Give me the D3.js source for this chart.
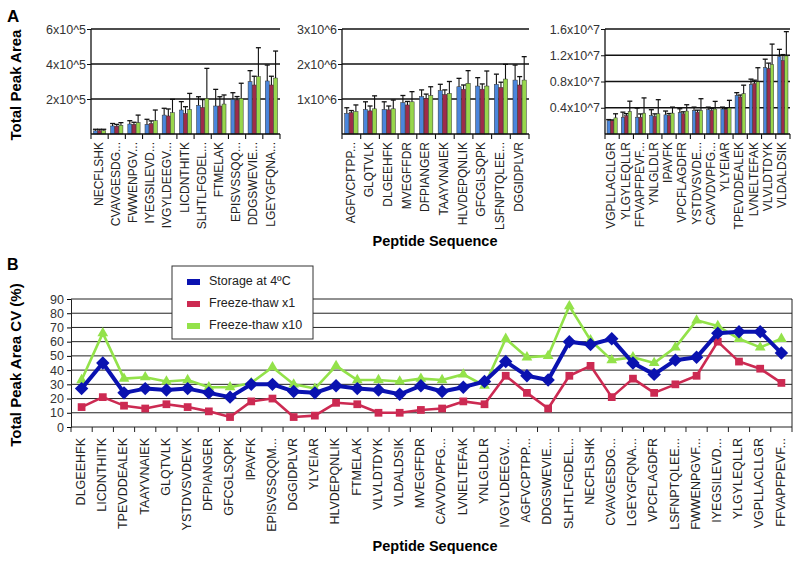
<!DOCTYPE html>
<html>
<head>
<meta charset="utf-8">
<script src="https://cdn.jsdelivr.net/npm/d3@7.9.0/dist/d3.min.js"></script>
<style>
  body { margin: 0; background: #fff; }
  svg { font-family: 'Liberation Sans', Arial, sans-serif; }
</style>
</head>
<body>
<svg id="chart" width="800" height="565"></svg>
<script>
// ---- Panel A data (three groups of peptides) ----
const a1Labels = ['NECFLSHK', 'CVAVGESDG...', 'FWWENPGV...', 'IYEGSILEVD...', 'IVGYLDEEGV...', 'LICDNTHITK',
  'SLHTLFGDEL...', 'FTMELAK', 'EPISVSSQQ...', 'DDGSWEVIE...', 'LGEYGFQNA...'];
const a1Storage = [18000, 46000, 57000, 55000, 108000, 137000, 164000, 160000, 198000, 299000, 303000];
const a1Ft1 = [20000, 45000, 55000, 60000, 103000, 118000, 152000, 160000, 194000, 280000, 280000];
const a1Ft10 = [20000, 50000, 65000, 76000, 122000, 140000, 204000, 171000, 204000, 328000, 320000];
const a1StorageErr = [9000, 14000, 19000, 29000, 39000, 48000, 49000, 95000, 38000, 63000, 91000];
const a1Ft1Err = [7000, 10000, 12000, 15000, 40000, 38000, 45000, 53000, 20000, 50000, 50000];
const a1Ft10Err = [7000, 15000, 43000, 61000, 76000, 92000, 171000, 52000, 86000, 165000, 154000];
const a1Ticks = [200000, 400000, 600000];
const a1TickLabels = ['2x10^5', '4x10^5', '6x10^5'];

const a2Labels = ['AGFVCPTPP...', 'GLQTVLK', 'DLGEEHFK', 'MVEGFFDR', 'DFPIANGER', 'TAAYVNAIEK',
  'HLVDEPQNLIK', 'GFCGLSQPK', 'LSFNPTQLEE...', 'DGGIDPLVR'];
const a2Storage = [590000, 700000, 700000, 900000, 1070000, 1240000, 1350000, 1370000, 1420000, 1540000];
const a2Ft1 = [610000, 660000, 690000, 830000, 1020000, 1130000, 1280000, 1280000, 1330000, 1400000];
const a2Ft10 = [640000, 720000, 720000, 920000, 1100000, 1160000, 1450000, 1370000, 1570000, 1540000];
const a2StorageErr = [160000, 220000, 220000, 200000, 190000, 180000, 240000, 240000, 290000, 430000];
const a2Ft1Err = [60000, 140000, 110000, 100000, 120000, 130000, 120000, 150000, 150000, 240000];
const a2Ft10Err = [190000, 370000, 250000, 290000, 250000, 340000, 360000, 430000, 420000, 670000];
const a2Ticks = [1000000, 2000000, 3000000];
const a2TickLabels = ['1x10^6', '2x10^6', '3x10^6'];

const a3Labels = ['VGPLLACLLGR', 'YLGYLEQLLR', 'FFVAPFPEVF...', 'YNLGLDLR', 'IPAVFK', 'VPCFLAGDFR',
  'YSTDVSVDE...', 'CAVVDVPFG...', 'YLYEIAR', 'TPEVDDEALEK', 'LVNELTEFAK', 'VLVLDTDYK', 'VLDALDSIK'];
const a3Storage = [2.05e6, 2.56e6, 2.56e6, 2.82e6, 2.92e6, 3.28e6, 3.59e6, 3.7e6, 3.8e6, 5.9e6, 7.54e6, 10.1e6, 11.8e6];
const a3Ft1 = [2.05e6, 2.8e6, 2.56e6, 2.67e6, 2.82e6, 3.08e6, 3.33e6, 3.59e6, 3.7e6, 5.64e6, 7.7e6, 10.0e6, 11.2e6];
const a3Ft10 = [2.46e6, 3.44e6, 3.18e6, 3.08e6, 3.18e6, 3.49e6, 3.59e6, 3.8e6, 3.95e6, 6.15e6, 7.95e6, 10.6e6, 11.9e6];
const a3StorageErr = [0.15e6, 0.77e6, 1.39e6, 0.88e6, 0.58e6, 0.57e6, 0.51e6, 0.4e6, 0.3e6, 0.4e6, 0.82e6, 1.3e6, 1.1e6];
const a3Ft1Err = [0.1e6, 0.3e6, 0.5e6, 0.4e6, 0.3e6, 0.3e6, 0.3e6, 0.3e6, 0.2e6, 0.3e6, 0.5e6, 0.8e6, 0.9e6];
const a3Ft10Err = [0.62e6, 1.56e6, 2.32e6, 2.15e6, 0.92e6, 0.97e6, 1.79e6, 1.17e6, 1.18e6, 1.29e6, 2.15e6, 3.1e6, 3.7e6];
const a3Ticks = [4e6, 8e6, 12e6, 16e6];
const a3TickLabels = ['0.4x10^7', '0.8x10^7', '1.2x10^7', '1.6x10^7'];

// ---- Panel B data (CV %) ----
const bLabels = ['DLGEEHFK', 'LICDNTHITK', 'TPEVDDEALEK', 'TAAYVNAIEK', 'GLQTVLK', 'YSTDVSVDEVK',
  'DFPIANGER', 'GFCGLSQPK', 'IPAVFK', 'EPISVSSQQM...', 'DGGIDPLVR', 'YLYEIAR', 'HLVDEPQNLIK',
  'FTMELAK', 'VLVLDTDYK', 'VLDALDSIK', 'MVEGFFDR', 'CAVVDVPFG...', 'LVNELTEFAK', 'YNLGLDLR',
  'IVGYLDEEGV...', 'AGFVCPTPP...', 'DDGSWEVIE...', 'SLHTLFGDEL...', 'NECFLSHK', 'CVAVGESDG...',
  'LGEYGFQNA...', 'VPCFLAGDFR', 'LSFNPTQLEE...', 'FWWENPGVF...', 'IYEGSILEVD...', 'YLGYLEQLLR',
  'VGPLLACLLGR', 'FFVAPFPEVF...'];
const bStorage = [27, 45, 24, 27, 26, 27, 24, 21, 30, 30, 25, 24, 29, 27, 26, 23, 29, 25, 28, 32,
  46, 36, 33, 60, 58, 62, 45, 37, 47, 49, 66, 67, 67, 52];
const bFt1 = [14, 21, 15, 13, 16, 14, 11, 7, 18, 20, 7, 8, 17, 16, 10, 10, 12, 13, 18, 16,
  36, 24, 13, 36, 43, 21, 34, 24, 30, 36, 60, 46, 41, 31];
const bFt10 = [33, 66, 34, 35, 32, 33, 28, 28, 31, 42, 30, 27, 43, 33, 33, 32, 34, 33, 37, 29,
  62, 49, 50, 85, 61, 47, 49, 45, 56, 75, 71, 62, 56, 62];
const bTicks = d3.range(0, 100, 10);
const seriesNames = ['Storage at 4ºC', 'Freeze-thaw x1', 'Freeze-thaw x10'];

const barColors = ['#4a86dc', '#9e2b4a', '#97d64c'];
const lineColors = ['#0a12b0', '#cc2a52', '#93e24a'];

const svg = d3.select('#chart');

function barPanel(x0, x1, labels, vals, errs, ticks, tickLabels) {
  const top = 29, bottom = 134;
  const x = d3.scaleBand().domain(labels).range([x0, x1]);
  const inner = d3.scaleBand().domain([0, 1, 2]).range([x.step() * 0.13, x.step() * 0.87]).padding(0.05);
  const y = d3.scaleLinear().domain([0, ticks[ticks.length - 1]]).range([bottom, top]);
  const g = svg.append('g');

  g.selectAll('.grid').data(ticks).join('line')
    .attr('x1', x0).attr('x2', x1)
    .attr('y1', (d) => y(d)).attr('y2', (d) => y(d))
    .attr('stroke', '#111').attr('stroke-width', (d, i) => (i === ticks.length - 1 ? 1.6 : 1.3));

  const yAxis = d3.axisLeft(y).tickValues(ticks).tickSize(4).tickFormat((_, i) => tickLabels[i]);
  g.append('g').attr('transform', `translate(${x0},0)`).call(yAxis)
    .call((a) => a.select('.domain').remove())
    .call((a) => a.selectAll('text').attr('font-size', 12.5).attr('fill', '#333').attr('x', -5))
    .call((a) => a.selectAll('line').attr('stroke', '#111'));

  vals.forEach((series, s) => {
    labels.forEach((lab, i) => {
      const bx = x(lab) + inner(s);
      const bw = inner.bandwidth();
      g.append('rect')
        .attr('x', bx).attr('y', y(series[i]))
        .attr('width', bw).attr('height', bottom - y(series[i]))
        .attr('fill', barColors[s]).attr('stroke', '#333').attr('stroke-width', 0.5);
      const cx = bx + bw / 2;
      const yt = y(series[i] + errs[s][i]);
      g.append('line').attr('x1', cx).attr('x2', cx).attr('y1', y(series[i])).attr('y2', yt)
        .attr('stroke', '#111').attr('stroke-width', 1.1);
      g.append('line').attr('x1', cx - 2.5).attr('x2', cx + 2.5).attr('y1', yt).attr('y2', yt)
        .attr('stroke', '#111').attr('stroke-width', 1.3);
    });
  });

  // axes lines
  g.append('line').attr('x1', x0).attr('x2', x0).attr('y1', top).attr('y2', bottom)
    .attr('stroke', '#111').attr('stroke-width', 1.3);
  g.append('line').attr('x1', x0).attr('x2', x1).attr('y1', bottom).attr('y2', bottom)
    .attr('stroke', '#111').attr('stroke-width', 1.3);
  g.selectAll('.xt').data(d3.range(labels.length + 1)).join('line')
    .attr('x1', (d) => x0 + d * x.step()).attr('x2', (d) => x0 + d * x.step())
    .attr('y1', bottom).attr('y2', bottom + 5)
    .attr('stroke', '#111').attr('stroke-width', 1.1);

  g.selectAll('.xl').data(labels).join('text')
    .attr('transform', (d) => `translate(${x(d) + x.bandwidth() / 2},142) rotate(-90)`)
    .attr('text-anchor', 'end').attr('dominant-baseline', 'middle')
    .attr('font-size', 12).attr('fill', '#222')
    .text((d) => d);
}

barPanel(91, 280, a1Labels, [a1Storage, a1Ft1, a1Ft10], [a1StorageErr, a1Ft1Err, a1Ft10Err], a1Ticks, a1TickLabels);
barPanel(342, 529, a2Labels, [a2Storage, a2Ft1, a2Ft10], [a2StorageErr, a2Ft1Err, a2Ft10Err], a2Ticks, a2TickLabels);
barPanel(605, 790, a3Labels, [a3Storage, a3Ft1, a3Ft10], [a3StorageErr, a3Ft1Err, a3Ft10Err], a3Ticks, a3TickLabels);

// Panel A titles
svg.append('text').attr('x', 7).attr('y', 22).attr('font-size', 17).attr('font-weight', 'bold').text('A');
svg.append('text').attr('transform', 'translate(21,85) rotate(-90)').attr('text-anchor', 'middle')
  .attr('font-size', 15).attr('font-weight', 'bold').text('Total Peak Area');
svg.append('text').attr('x', 435).attr('y', 246).attr('text-anchor', 'middle')
  .attr('font-size', 14.5).attr('font-weight', 'bold').text('Peptide Sequence');

// ---- Panel B ----
const bx = d3.scaleBand().domain(bLabels).range([71, 792]);
const by = d3.scaleLinear().domain([0, 90]).range([427, 299]);
const gb = svg.append('g');

gb.selectAll('.grid').data(bTicks.filter((d) => d > 0)).join('line')
  .attr('x1', 71).attr('x2', 792).attr('y1', (d) => by(d)).attr('y2', (d) => by(d))
  .attr('stroke', '#222').attr('stroke-width', 1);
gb.append('line').attr('x1', 792).attr('x2', 792).attr('y1', 299).attr('y2', 427)
  .attr('stroke', '#222').attr('stroke-width', 1);

gb.append('g').attr('transform', 'translate(71,0)')
  .call(d3.axisLeft(by).tickValues(bTicks).tickSize(4).tickFormat(d3.format('d')))
  .call((a) => a.select('.domain').attr('stroke', '#222'))
  .call((a) => a.selectAll('text').attr('font-size', 12.5).attr('fill', '#333').attr('x', -7));

gb.append('line').attr('x1', 71).attr('x2', 792).attr('y1', 427).attr('y2', 427)
  .attr('stroke', '#222').attr('stroke-width', 1);
gb.selectAll('.xt').data(d3.range(bLabels.length + 1)).join('line')
  .attr('x1', (d) => 71 + d * bx.step()).attr('x2', (d) => 71 + d * bx.step())
  .attr('y1', 427).attr('y2', 432).attr('stroke', '#222');

gb.selectAll('.xl').data(bLabels).join('text')
  .attr('transform', (d) => `translate(${bx(d) + bx.bandwidth() / 2},438) rotate(-90)`)
  .attr('text-anchor', 'end').attr('dominant-baseline', 'middle')
  .attr('font-size', 12.5).attr('fill', '#222')
  .text((d) => d);

const bSeries = [bFt1, bFt10, bStorage];
const bColorIdx = [1, 2, 0];
const line = d3.line().x((d, i) => bx(bLabels[i]) + bx.bandwidth() / 2).y((d) => by(d));
const symbols = [
  d3.symbol(d3.symbolSquare, 90),
  d3.symbol(d3.symbolSquare, 60),
  d3.symbol(d3.symbolTriangle, 50),
];

bSeries.forEach((series, k) => {
  const c = bColorIdx[k];
  gb.append('path').datum(series).attr('d', line)
    .attr('fill', 'none').attr('stroke', lineColors[c])
    .attr('stroke-width', c === 0 ? 4 : 2.6).attr('stroke-linejoin', 'round');
  gb.selectAll(`.m${c}`).data(series).join('path')
    .attr('transform', (d, i) => `translate(${bx(bLabels[i]) + bx.bandwidth() / 2},${by(d)})${c === 0 ? ' rotate(45)' : ''}`)
    .attr('d', symbols[c]())
    .attr('fill', lineColors[c]);
});

// legend
const lg = svg.append('g');
lg.append('rect').attr('x', 172).attr('y', 266).attr('width', 141).attr('height', 73)
  .attr('fill', '#fff').attr('stroke', '#333').attr('stroke-width', 1);
seriesNames.forEach((name, i) => {
  const yy = 282 + i * 22;
  lg.append('rect').attr('x', 187).attr('y', yy - 3).attr('width', 13).attr('height', 6)
    .attr('fill', lineColors[i]);
  lg.append('text').attr('x', 209).attr('y', yy).attr('dominant-baseline', 'middle')
    .attr('font-size', 12.5).attr('fill', '#222').text(name);
});

svg.append('text').attr('x', 7).attr('y', 270).attr('font-size', 16).attr('font-weight', 'bold').text('B');
svg.append('text').attr('transform', 'translate(21,365) rotate(-90)').attr('text-anchor', 'middle')
  .attr('font-size', 15).attr('font-weight', 'bold').text('Total Peak Area CV (%)');
svg.append('text').attr('x', 435).attr('y', 551).attr('text-anchor', 'middle')
  .attr('font-size', 14.5).attr('font-weight', 'bold').text('Peptide Sequence');
</script>
</body>
</html>
